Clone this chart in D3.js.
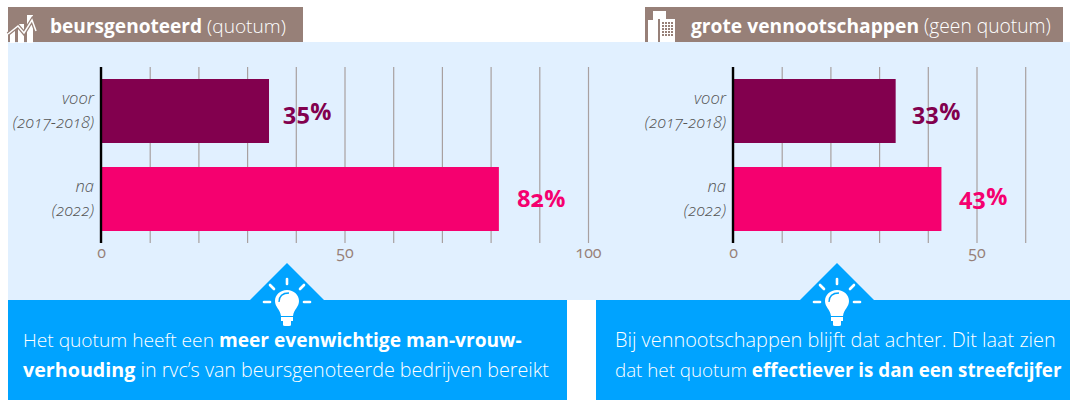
<!DOCTYPE html>
<html><head><meta charset="utf-8">
<script src="https://cdn.jsdelivr.net/npm/d3@7"></script>
<style>
html,body{margin:0;padding:0;background:#fff}
svg{display:block;font-family:"Open Sans",sans-serif;font-feature-settings:"onum" 1;}
</style></head><body><svg id="c" width="1070" height="400"></svg>
<script>
const categories=["voor","na"];
const periods=["(2017-2018)","(2022)"];
const listedValues=[34.5,81.7];
const listedLabels=["35%","82%"];
const largeValues=[33.4,42.8];
const largeLabels=["33%","43%"];
const listedTicks=[0,10,20,30,40,50,60,70,80,90,100];
const largeTicks=[0,10,20,30,40,50,60];
const tickLabels=[0,50,100];
const barColors=["#82004e","#f5006f"];

const svg=d3.select("#c");
svg.append("rect").attr("x",8).attr("y",7).attr("width",295).attr("height",36).attr("fill","#978078");
svg.append("rect").attr("x",645).attr("y",7).attr("width",418).attr("height",36).attr("fill","#978078");
svg.append("rect").attr("x",8).attr("y",42).attr("width",1062).attr("height",258).attr("fill","#e1f0ff");
svg.append("rect").attr("x",8).attr("y",300).attr("width",559).attr("height",100).attr("fill","#00a3ff");
svg.append("rect").attr("x",596).attr("y",300).attr("width",474).attr("height",100).attr("fill","#00a3ff");
svg.append("rect").attr("x",567).attr("y",300).attr("width",29).attr("height",100).attr("fill","#fff");

function fit(sel,w){
  const n=sel.node(), l=n.getComputedTextLength(), s=+sel.attr("font-size");
  sel.attr("font-size",s*w/l);
}
function head(x,y,b,r,w){
  const t=svg.append("text").attr("x",x).attr("y",y).attr("fill","#fff").attr("font-size",18);
  t.append("tspan").attr("font-weight",700).text(b);
  t.append("tspan").attr("font-weight",300).text(" "+r);
  fit(t,w);
}
head(50,33,"beursgenoteerd","(quotum)",236);
head(691,33,"grote vennootschappen","(geen quotum)",360);

function panel(x0,maxV,ticks,labels,values,valLabels,labelX,labelOffsets){
  const x=d3.scaleLinear().domain([0,maxV]).range([x0,x0+maxV*4.87]);
  const g=svg.append("g");
  const ax=d3.axisBottom(x).tickValues(ticks).tickSize(176).tickFormat(d=>labels.includes(d)?d:"");
  const a=g.append("g").attr("transform","translate(0,67)").call(ax);
  a.select(".domain").remove();
  a.selectAll("line").attr("stroke","#a8a0a0").attr("stroke-width",1.2);
  a.selectAll("text").attr("fill","#978078").attr("font-size",16).attr("font-family","'Open Sans',sans-serif").attr("y",180).attr("dy","0.71em");
  g.selectAll(".bar").data(values).join("rect")
    .attr("x",x(0)).attr("y",(d,i)=>[79,167][i]).attr("width",d=>x(d)-x(0)).attr("height",64)
    .attr("fill",(d,i)=>barColors[i]);
  g.append("line").attr("x1",x(0)).attr("x2",x(0)).attr("y1",67).attr("y2",243).attr("stroke","#000").attr("stroke-width",2.4);
  g.selectAll(".v").data(valLabels).join("text")
    .attr("x",(d,i)=>labelX[i]).attr("y",(d,i)=>[120,207][i]+labelOffsets[i])
    .attr("font-size",23.5).attr("font-weight",700).attr("fill",(d,i)=>barColors[i]).text(d=>d);
  categories.forEach((c,i)=>{
    svg.append("text").attr("x",x0-7).attr("y",[104,192][i]).attr("text-anchor","end").attr("font-size",16.5).attr("font-style","italic").attr("font-weight",300).attr("fill","#555").text(c);
    svg.append("text").attr("x",x0-7).attr("y",[128,216][i]).attr("text-anchor","end").attr("font-size",16.5).attr("font-style","italic").attr("font-weight",300).attr("fill","#555").text(periods[i]);
  });
}
panel(101,100,listedTicks,tickLabels,listedValues,listedLabels,[283,517],[0,0]);
panel(733,60,largeTicks,tickLabels,largeValues,largeLabels,[912,959],[0,-2]);

function callout(cx){
  svg.append("path").attr("d",`M${cx-37},300L${cx},263L${cx+37},300Z`).attr("fill","#00a3ff");
  const g=svg.append("g").attr("transform",`translate(${cx},300)`);
  g.append("path").attr("fill","#fff").attr("d","M0,-10C-7,-10 -12,-5 -12,1C-12,7 -7,9 -6,16L6,16C7,9 12,7 12,1C12,-5 7,-10 0,-10Z");
  g.append("path").attr("fill","#fff").attr("d","M-6,17H6V21H4V25Q4,26 2,26H-2Q-4,26 -4,25V21H-6Z");
  g.append("path").attr("fill","none").attr("stroke","#00a3ff").attr("stroke-width",1.3).attr("d","M-8,2C-8,-4 -4,-7 2,-7");
  const rays=[[-23,2,-17,2],[17,2,23,2],[-17,-15,-13,-11],[17,-15,13,-11],[0,-21,0,-16]];
  g.selectAll(".ray").data(rays).join("line").attr("x1",d=>d[0]).attr("y1",d=>d[1]).attr("x2",d=>d[2]).attr("y2",d=>d[3]).attr("stroke","#fff").attr("stroke-width",2.6).attr("stroke-linecap","round");
}
callout(287);callout(837);

// header icons
const ic1=svg.append("g").attr("fill","#fff");
[[10,30,5,13],[18,24,6,19],[27,15,6,28]].forEach(d=>ic1.append("rect").attr("x",d[0]).attr("y",d[1]).attr("width",d[2]).attr("height",d[3]));
svg.append("path").attr("d","M8,34L18,26L24,33L32,20L36,31").attr("fill","none").attr("stroke","#978078").attr("stroke-width",4);
svg.append("path").attr("d","M8,34L18,26L24,33L32,20L36,31").attr("fill","none").attr("stroke","#fff").attr("stroke-width",1.5);
const ic2=svg.append("g").attr("fill","#fff");
ic2.append("path").attr("d","M648,42V20H653V11H666V19H658V42Z");
ic2.append("rect").attr("x",660).attr("y",19).attr("width",15).attr("height",23);
const cols=[662,665,668,671], rows=[22,25,28,31,34];
cols.forEach(a=>rows.forEach(b=>svg.append("rect").attr("x",a).attr("y",b).attr("width",2).attr("height",2).attr("fill","#978078")));

function para(x,y,parts,w){
  const t=svg.append("text").attr("x",x).attr("y",y).attr("fill","#fff").attr("font-size",17);
  parts.forEach(p=>t.append("tspan").attr("font-weight",p[1]?700:300).text(p[0]));
  fit(t,w);
}
para(23,347,[["Het quotum heeft een ",0],["meer evenwichtige man-vrouw-",1]],499);
para(23,377,[["verhouding",1],[" in rvc’s van beursgenoteerde bedrijven bereikt",0]],526);
para(615,347,[["Bij vennootschappen blijft dat achter. Dit laat zien",0]],441);
para(615,377,[["dat het quotum ",0],["effectiever is dan een streefcijfer",1]],447);
</script></body></html>
